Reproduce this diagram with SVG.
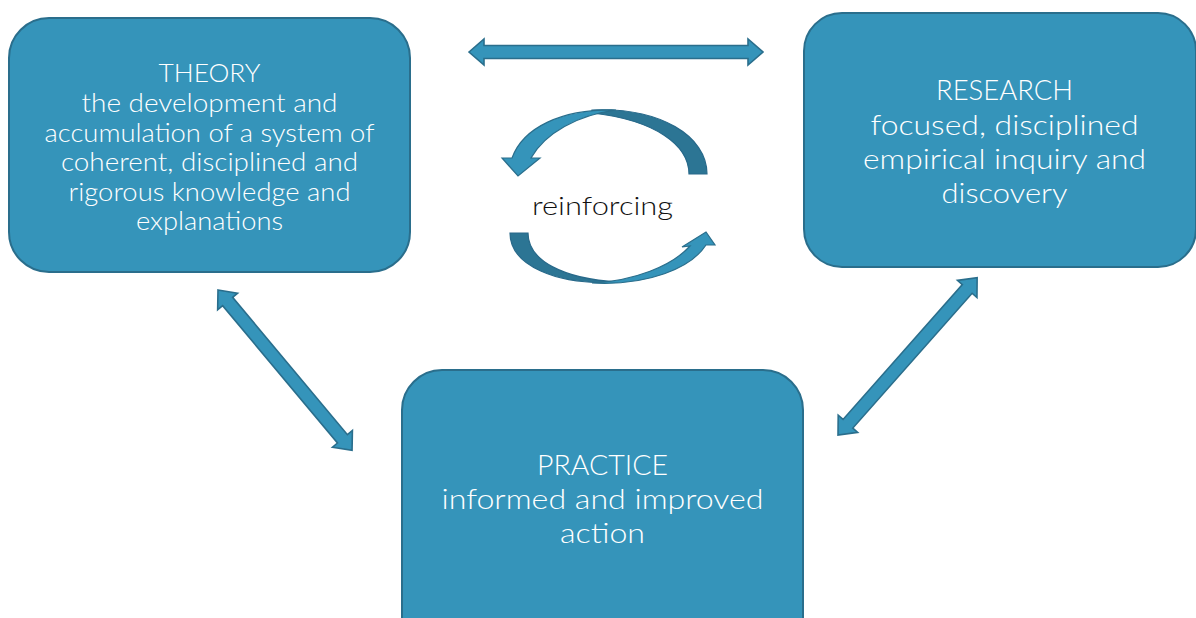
<svg xmlns="http://www.w3.org/2000/svg" width="1196" height="618" viewBox="0 0 1196 618">
  <defs>
    <style>
      .box { fill: #3594BA; stroke: #2A6E8C; stroke-width: 2; }
      .label { fill: #FFFFFF; font-family: "Lato", "Open Sans", "DejaVu Sans", sans-serif; font-weight: 300; text-anchor: middle; }
      .t24 { font-size: 25px; }
      .t27 { font-size: 28px; }
      .arrow { fill: #3594BA; stroke: #2A6E8C; stroke-width: 1.6; stroke-linejoin: miter; }
      .loop-front { fill: #3594BA; stroke: #2A6E8C; stroke-width: 1.2; }
      .loop-back { fill: #2C7594; stroke: #28698A; stroke-width: 1.2; }
      .mid { fill: #111111; font-family: "Lato", "Open Sans", "DejaVu Sans", sans-serif; font-weight: 300; font-size: 26px; text-anchor: middle; }
    </style>
  </defs>

  <!-- links between the three boxes -->
  <g id="connectors">
    <path class="arrow" transform="translate(469,52)"
          d="M0,0 L15,-13 L15,-6.5 L279,-6.5 L279,-13 L294,0 L279,13 L279,6.5 L15,6.5 L15,13 Z"/>
    <path class="arrow" transform="translate(218,290) rotate(50.1)"
          d="M0,0 L15,-13 L15,-6.5 L194,-6.5 L194,-13 L209,0 L194,13 L194,6.5 L15,6.5 L15,13 Z"/>
    <path class="arrow" transform="translate(838,435) rotate(-48.5)"
          d="M0,0 L15,-13 L15,-6.5 L195,-6.5 L195,-13 L210,0 L195,13 L195,6.5 L15,6.5 L15,13 Z"/>
  </g>

  <!-- circular "reinforcing" loop in the middle -->
  <g id="loop">
    <!-- upper arc: back half on the right, front half with head on the left -->
    <path class="loop-back" d="M592,110 C660,107 707,136 707,174 L689,174 C689,145 655,120 592,113 Z"/>
    <path class="loop-front" d="M512,158 C523,128 560,109 616,110 C578,115 545,133 531,158 L540,158 L518,176 L502,158 Z"/>
    <!-- lower arc: back half on the left, front half with head on the right -->
    <path class="loop-back" d="M510,233 L528,233 C528,261 564,279 618,282 C556,286 510,265 510,233 Z"/>
    <path class="loop-front" d="M592,283 C648,286 691,268 706,245 L715,245 L706,232 L682,247 L690,246 C672,266 634,281 592,283 Z"/>
    <text class="mid" x="602.5" y="215" textLength="141" lengthAdjust="spacingAndGlyphs">reinforcing</text>
  </g>

  <g id="theory">
    <rect class="box" x="9" y="18" width="401" height="254" rx="40" ry="40"/>
    <text class="label t24" x="209.5" y="81.5" textLength="102" lengthAdjust="spacingAndGlyphs">THEORY</text>
    <text class="label t24" x="209.5" y="112" textLength="256" lengthAdjust="spacingAndGlyphs">the development and</text>
    <text class="label t24" x="209.5" y="141.5" textLength="330" lengthAdjust="spacingAndGlyphs">accumulation of a system of</text>
    <text class="label t24" x="209.5" y="171" textLength="297" lengthAdjust="spacingAndGlyphs">coherent, disciplined and</text>
    <text class="label t24" x="209.5" y="200.5" textLength="282" lengthAdjust="spacingAndGlyphs">rigorous knowledge and</text>
    <text class="label t24" x="209.5" y="230" textLength="147" lengthAdjust="spacingAndGlyphs">explanations</text>
  </g>

  <g id="research">
    <rect class="box" x="804" y="13" width="392" height="254" rx="38" ry="38"/>
    <text class="label t27" x="1004.5" y="100" textLength="137" lengthAdjust="spacingAndGlyphs">RESEARCH</text>
    <text class="label t27" x="1004.5" y="134.5" textLength="268" lengthAdjust="spacingAndGlyphs">focused, disciplined</text>
    <text class="label t27" x="1004.5" y="168.5" textLength="283" lengthAdjust="spacingAndGlyphs">empirical inquiry and</text>
    <text class="label t27" x="1004.5" y="202.5" textLength="126" lengthAdjust="spacingAndGlyphs">discovery</text>
  </g>

  <g id="practice">
    <rect class="box" x="402" y="370" width="401" height="290" rx="40" ry="40"/>
    <text class="label t27" x="602.5" y="475" textLength="131" lengthAdjust="spacingAndGlyphs">PRACTICE</text>
    <text class="label t27" x="602.5" y="509" textLength="322" lengthAdjust="spacingAndGlyphs">informed and improved</text>
    <text class="label t27" x="602.5" y="543" textLength="85" lengthAdjust="spacingAndGlyphs">action</text>
  </g>
</svg>
